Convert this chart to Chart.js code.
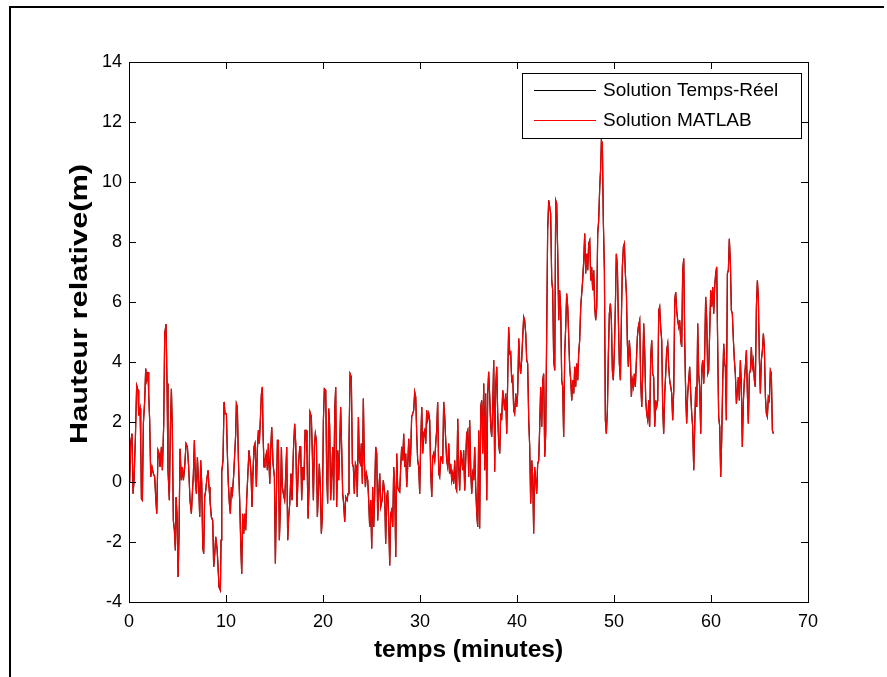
<!DOCTYPE html>
<html>
<head>
<meta charset="utf-8">
<script src="https://cdn.jsdelivr.net/npm/chart.js@4.4.0/dist/chart.umd.min.js"></script>
<style>
  html, body { margin: 0; padding: 0; background: #fff; }
  canvas { display: block; }
</style>
</head>
<body>
<canvas id="hauteurChart" width="887" height="677"></canvas>
<script>
// temps (minutes) and hauteur relative (m)
const minutes = [
  0.00, 0.07, 0.18, 0.31, 0.42, 0.52, 0.66, 0.79, 0.93, 1.00, 1.14, 1.21, 1.28, 1.38, 1.48, 1.62, 1.72, 1.83, 1.96, 2.03,
  2.13, 2.24, 2.37, 2.51, 2.65, 2.75, 2.86, 2.99, 3.10, 3.20, 3.34, 3.44, 3.58, 3.68, 3.82, 3.92, 4.02, 4.16, 4.26, 4.37,
  4.47, 4.57, 4.68, 4.78, 4.85, 4.95, 5.06, 5.16, 5.26, 5.40, 5.50, 5.61, 5.74, 5.88, 6.02, 6.15, 6.29, 6.43, 6.53, 6.64,
  6.74, 6.84, 6.95, 7.05, 7.19, 7.29, 7.39, 7.50, 7.60, 7.70, 7.80, 7.91, 8.01, 8.15, 8.25, 8.35, 8.49, 8.63, 8.73, 8.84,
  8.94, 9.08, 9.18, 9.28, 9.42, 9.49, 9.56, 9.69, 9.80, 9.90, 10.04, 10.14, 10.24, 10.35, 10.45, 10.55, 10.66, 10.79, 10.90, 11.00,
  11.07, 11.17, 11.28, 11.41, 11.52, 11.62, 11.72, 11.83, 11.93, 12.03, 12.13, 12.24, 12.37, 12.48, 12.58, 12.68, 12.79, 12.89, 12.99, 13.13,
  13.23, 13.34, 13.44, 13.54, 13.65, 13.75, 13.82, 13.92, 14.02, 14.16, 14.27, 14.37, 14.51, 14.61, 14.71, 14.85, 14.99, 15.09, 15.19, 15.30,
  15.40, 15.50, 15.61, 15.71, 15.81, 15.91, 16.05, 16.16, 16.26, 16.36, 16.46, 16.57, 16.70, 16.81, 16.95, 17.08, 17.19, 17.32, 17.46, 17.60,
  17.70, 17.80, 17.91, 18.04, 18.15, 18.25, 18.35, 18.46, 18.56, 18.66, 18.80, 18.90, 19.01, 19.11, 19.21, 19.32, 19.42, 19.52, 19.62, 19.73,
  19.83, 19.93, 20.04, 20.14, 20.28, 20.38, 20.48, 20.59, 20.69, 20.79, 20.90, 21.00, 21.10, 21.21, 21.31, 21.41, 21.52, 21.62, 21.72, 21.82,
  21.93, 22.03, 22.13, 22.24, 22.34, 22.48, 22.58, 22.68, 22.79, 22.92, 23.03, 23.13, 23.23, 23.34, 23.44, 23.54, 23.65, 23.75, 23.85, 23.95,
  24.06, 24.16, 24.26, 24.37, 24.47, 24.61, 24.71, 24.81, 24.92, 25.02, 25.12, 25.23, 25.33, 25.43, 25.54, 25.64, 25.74, 25.85, 25.95, 26.09,
  26.22, 26.36, 26.46, 26.57, 26.67, 26.77, 26.88, 26.98, 27.08, 27.19, 27.29, 27.39, 27.50, 27.60, 27.70, 27.80, 27.91, 28.01, 28.11, 28.22,
  28.32, 28.42, 28.53, 28.63, 28.73, 28.84, 28.94, 29.04, 29.14, 29.25, 29.35, 29.45, 29.56, 29.66, 29.76, 29.87, 29.97, 30.07, 30.18, 30.28,
  30.38, 30.48, 30.59, 30.69, 30.79, 30.90, 31.00, 31.10, 31.21, 31.31, 31.41, 31.52, 31.62, 31.72, 31.82, 31.93, 32.03, 32.13, 32.24, 32.34,
  32.44, 32.55, 32.65, 32.75, 32.86, 32.96, 33.06, 33.16, 33.27, 33.37, 33.47, 33.58, 33.68, 33.78, 33.89, 33.99, 34.09, 34.20, 34.30, 34.40,
  34.50, 34.61, 34.71, 34.81, 34.92, 35.02, 35.12, 35.23, 35.33, 35.43, 35.54, 35.64, 35.74, 35.85, 35.95, 36.05, 36.15, 36.26, 36.36, 36.46,
  36.57, 36.67, 36.77, 36.88, 36.98, 37.08, 37.19, 37.29, 37.39, 37.49, 37.60, 37.70, 37.80, 37.91, 38.01, 38.11, 38.22, 38.32, 38.42, 38.53,
  38.63, 38.73, 38.83, 38.94, 39.04, 39.14, 39.25, 39.35, 39.45, 39.56, 39.66, 39.76, 39.87, 39.97, 40.07, 40.18, 40.28, 40.38, 40.48, 40.59,
  40.69, 40.79, 40.90, 41.00, 41.10, 41.21, 41.31, 41.41, 41.52, 41.62, 41.72, 41.82, 41.93, 42.03, 42.13, 42.24, 42.34, 42.44, 42.55, 42.65,
  42.75, 42.86, 42.96, 43.06, 43.16, 43.27, 43.37, 43.47, 43.58, 43.68, 43.78, 43.89, 43.99, 44.09, 44.20, 44.30, 44.40, 44.51, 44.61, 44.71,
  44.81, 44.92, 45.02, 45.12, 45.23, 45.33, 45.43, 45.54, 45.64, 45.74, 45.85, 45.95, 46.05, 46.15, 46.26, 46.36, 46.46, 46.57, 46.67, 46.77,
  46.88, 46.98, 47.08, 47.19, 47.29, 47.39, 47.50, 47.60, 47.70, 47.80, 47.91, 48.01, 48.11, 48.22, 48.32, 48.42, 48.53, 48.63, 48.70, 48.80,
  48.90, 49.01, 49.11, 49.21, 49.32, 49.42, 49.52, 49.63, 49.73, 49.83, 49.93, 50.04, 50.14, 50.24, 50.35, 50.45, 50.55, 50.66, 50.76, 50.86,
  50.97, 51.07, 51.17, 51.28, 51.38, 51.48, 51.58, 51.69, 51.79, 51.89, 52.00, 52.10, 52.20, 52.31, 52.41, 52.51, 52.65, 52.75, 52.86, 52.96,
  53.06, 53.17, 53.27, 53.37, 53.48, 53.58, 53.68, 53.78, 53.89, 53.99, 54.09, 54.20, 54.30, 54.40, 54.51, 54.61, 54.71, 54.81, 54.92, 55.02,
  55.12, 55.23, 55.33, 55.43, 55.54, 55.64, 55.74, 55.85, 55.95, 56.05, 56.16, 56.26, 56.36, 56.46, 56.57, 56.67, 56.77, 56.88, 56.98, 57.08,
  57.19, 57.29, 57.39, 57.49, 57.60, 57.70, 57.80, 57.91, 58.01, 58.11, 58.22, 58.32, 58.42, 58.53, 58.63, 58.73, 58.83, 58.94, 59.04, 59.14,
  59.25, 59.35, 59.45, 59.56, 59.66, 59.76, 59.87, 59.97, 60.07, 60.18, 60.28, 60.38, 60.48, 60.59, 60.69, 60.79, 60.90, 61.00, 61.10, 61.21,
  61.31, 61.41, 61.48, 61.58, 61.69, 61.79, 61.89, 62.00, 62.10, 62.20, 62.31, 62.41, 62.51, 62.62, 62.72, 62.82, 62.92, 63.03, 63.13, 63.23,
  63.34, 63.44, 63.54, 63.65, 63.75, 63.85, 63.96, 64.06, 64.16, 64.26, 64.37, 64.47, 64.57, 64.68, 64.78, 64.88, 64.99, 65.09, 65.19, 65.30,
  65.40, 65.50, 65.61, 65.71, 65.81, 65.91, 66.02, 66.12, 66.22, 66.33, 66.43
];
const hauteur = [
  0.67, 0.00, 1.33, 1.61, -0.39, 0.06, 1.50, 3.22, 3.06, 2.22, 2.45, 1.28, -0.56, -0.61, 1.94, 2.72, 3.78, 3.39, 3.67, 2.94,
  2.06, 0.17, 0.50, 0.28, 0.17, -0.50, -1.06, 1.06, 0.95, 0.50, 1.17, 0.39, 1.94, 4.94, 5.26, 3.28, 0.39, -0.61, 1.72, 3.11,
  1.72, -1.28, -1.61, -2.28, -0.50, -1.06, -3.17, -1.72, 1.11, 0.06, 0.50, 0.06, 0.50, 1.28, 1.17, 0.50, -0.61, -1.06, -0.39, 0.28,
  1.39, 0.06, -0.39, 0.83, -0.17, -1.17, 0.72, -0.06, -2.17, -2.39, -0.50, -0.28, 0.06, 0.39, -0.17, -0.61, -1.17, -1.28, -2.83, -2.39,
  -1.83, -2.22, -2.83, -3.50, -3.61, -1.94, 0.33, 0.72, 2.67, 2.28, 2.28, 0.95, -0.06, -0.72, -1.06, -0.17, -0.39, 0.22, 0.95, 1.61,
  2.61, 2.50, 0.72, -0.61, -2.06, -3.06, -1.06, -1.72, -1.06, -1.61, -0.61, 0.17, 1.06, 0.72, 0.28, -0.83, 0.39, 1.17, 1.28, -0.17,
  1.06, 1.72, 1.28, 2.06, 2.94, 3.17, 1.61, 0.50, 0.72, 0.95, 0.39, 1.28, -0.06, 1.06, 1.83, 0.61, 0.17, -2.72, -0.61, 1.39,
  1.39, -1.94, -0.83, 1.17, -0.17, -0.39, -0.61, 0.28, 1.17, -1.94, -1.17, -0.72, 0.28, -0.61, 1.06, 1.94, 1.28, -0.83, 0.50, 1.17,
  1.17, -0.61, 0.50, 0.06, 1.72, 1.72, 0.95, -1.22, -0.17, 2.33, 2.17, 0.95, -0.61, 1.17, 1.61, 1.39, -1.17, -0.39, 0.61, -0.17,
  -1.72, -1.17, 2.06, 3.11, 3.06, 0.28, -0.72, 2.45, 1.83, -0.61, 0.28, 1.17, -0.61, 2.39, 3.17, -0.83, 1.06, 0.06, 1.17, 2.50,
  1.06, -0.39, -0.72, -1.33, -0.50, -0.61, -0.39, 1.28, 3.61, 3.50, 0.61, 0.50, -0.39, 0.61, 0.50, -0.50, 2.17, 0.72, 0.61, 1.28,
  -0.06, 2.78, 0.72, -0.17, 0.28, 0.06, -0.61, -1.50, -0.61, -2.22, -0.17, -1.50, -0.39, 1.17, 0.95, -1.28, -0.39, 0.28, -0.83, -0.61,
  0.06, -0.39, -2.06, -0.50, -0.28, -1.28, -2.78, -1.06, -0.94, -1.50, 0.50, -0.17, -2.50, 0.95, -0.17, -0.28, -0.33, 0.50, 1.17, 0.72,
  1.61, 0.50, 0.95, -0.17, 0.50, 1.44, 0.50, 0.95, 2.17, 2.28, 2.39, 3.00, 2.83, 1.61, 0.72, 0.50, -0.39, 1.28, 2.50, 0.95,
  1.61, 1.72, 1.28, 2.39, 2.06, 2.28, 2.06, 0.39, -0.50, 0.83, 0.95, 0.72, 1.28, 1.72, 2.67, 0.28, 0.17, 0.83, 0.83, 0.61,
  2.67, 2.17, 1.39, 0.72, 0.50, 1.28, 0.28, 0.61, 0.06, 0.28, -0.06, 0.72, -0.17, -0.28, 2.11, 0.50, -0.28, 1.06, 0.72, 0.39,
  1.06, -0.28, 0.72, 1.61, 1.72, 0.17, 2.06, 0.39, -0.39, 0.28, 0.06, 1.17, -0.17, -1.05, -1.50, 1.72, -1.55, 2.50, 2.72, 0.95,
  3.28, 0.39, 2.95, -0.61, 2.95, 3.67, 2.84, 1.84, 1.50, 2.39, 4.06, 0.34, 3.17, 3.84, 2.28, 1.28, 0.95, 2.28, 2.06, 3.06,
  2.72, 2.39, 2.95, 1.61, 3.39, 5.17, 4.28, 4.33, 3.39, 3.50, 2.39, 2.28, 2.95, 2.50, 2.95, 4.78, 3.95, 3.61, 4.06, 4.84,
  5.50, 5.39, 4.95, 4.06, 3.95, 2.06, 1.17, -0.72, 0.72, 0.17, -1.72, 0.50, 0.06, -0.39, 0.61, 0.72, 1.84, 3.17, 1.84, 3.39,
  3.61, 0.84, 1.61, 4.95, 8.39, 9.39, 9.17, 8.95, 6.72, 6.39, 4.06, 3.72, 9.39, 9.28, 7.61, 5.39, 6.39, 5.72, 3.39, 3.17,
  1.50, 4.28, 5.17, 6.28, 5.84, 4.84, 3.84, 3.39, 2.72, 3.39, 2.95, 3.84, 3.17, 3.95, 3.39, 4.28, 4.72, 5.84, 6.28, 6.72,
  7.39, 8.28, 6.95, 7.61, 7.06, 7.95, 8.06, 6.72, 7.17, 6.39, 7.06, 5.84, 5.39, 5.84, 8.28, 8.72, 9.84, 10.50, 11.39, 11.28,
  8.72, 7.06, 2.06, 1.61, 2.39, 4.28, 5.61, 5.95, 5.39, 3.72, 3.39, 4.39, 5.84, 7.61, 7.17, 5.39, 3.95, 3.39, 5.39, 7.17,
  7.84, 7.95, 6.95, 6.28, 4.61, 3.84, 4.72, 4.17, 2.84, 3.39, 3.17, 3.61, 3.17, 4.06, 4.84, 5.17, 5.39, 3.39, 2.50, 3.61,
  5.28, 4.28, 2.72, 2.28, 2.06, 2.72, 1.84, 4.17, 4.72, 3.61, 3.50, 1.84, 2.72, 2.50, 2.72, 5.72, 5.84, 5.17, 4.72, 2.50,
  1.61, 2.95, 3.61, 4.39, 4.61, 3.84, 3.39, 3.17, 2.95, 2.06, 3.06, 6.06, 6.33, 5.72, 5.39, 5.17, 5.39, 4.72, 4.50, 7.06,
  7.45, 4.72, 2.95, 1.95, 2.95, 3.39, 3.84, 2.95, 2.28, 1.84, 0.39, 1.84, 3.17, 2.50, 5.28, 3.61, 3.17, 1.61, 3.72, 4.06,
  3.28, 4.28, 6.17, 5.39, 3.61, 3.72, 5.06, 6.39, 5.84, 6.50, 5.61, 6.50, 6.95, 7.17, 4.50, 2.17, 1.84, 0.17, 1.39, 3.39,
  4.61, 3.95, 3.83, 2.06, 6.95, 7.06, 8.11, 7.28, 5.72, 5.61, 4.72, 4.06, 3.61, 2.61, 3.06, 3.50, 2.72, 4.06, 3.17, 1.17,
  2.72, 3.39, 3.83, 4.39, 2.95, 1.95, 3.61, 3.72, 4.50, 3.83, 4.06, 3.39, 3.17, 5.83, 6.72, 6.17, 4.06, 2.95, 4.06, 4.39,
  4.95, 4.50, 2.83, 2.28, 2.17, 2.83, 2.72, 3.72, 3.61, 1.72, 1.61
];
const xTicks = [0, 10, 20, 30, 40, 50, 60, 70];
const yTicks = [-4, -2, 0, 2, 4, 6, 8, 10, 12, 14];
const seriesNames = ["Solution Temps-Réel", "Solution MATLAB"];
const seriesColors = ["#000000", "#ff0000"];
const yTitle = "Hauteur relative(m)";

const FONT = "'Liberation Sans', Arial, sans-serif";
Chart.defaults.font.family = FONT;
Chart.defaults.color = "#000";

const points = minutes.map((t, i) => ({ x: t, y: hauteur[i] }));

// MATLAB style box, inward ticks, legend, y label and outer frame
const matlabFrame = {
  id: "matlabFrame",
  beforeDraw(chart) {
    const ctx = chart.ctx;
    ctx.save();
    ctx.fillStyle = "#fff";
    ctx.fillRect(0, 0, chart.width, chart.height);
    ctx.restore();
  },
  afterDatasetsDraw(chart) {
    const ctx = chart.ctx;
    const a = chart.chartArea;
    const xs = chart.scales.x, ys = chart.scales.y;
    ctx.save();
    ctx.strokeStyle = "#000";
    ctx.lineWidth = 1;
    ctx.strokeRect(a.left + 0.5, a.top + 0.5, a.right - a.left, a.bottom - a.top);
    ctx.beginPath();
    xTicks.forEach(v => {
      const px = Math.round(xs.getPixelForValue(v)) + 0.5;
      ctx.moveTo(px, a.bottom); ctx.lineTo(px, a.bottom - 7);
      ctx.moveTo(px, a.top); ctx.lineTo(px, a.top + 7);
    });
    yTicks.forEach(v => {
      const py = Math.round(ys.getPixelForValue(v)) + 0.5;
      ctx.moveTo(a.left, py); ctx.lineTo(a.left + 7, py);
      ctx.moveTo(a.right, py); ctx.lineTo(a.right - 7, py);
    });
    ctx.stroke();

    // legend box
    const lx = 522, ly = 73, lw = 279, lh = 65;
    ctx.fillStyle = "#fff";
    ctx.fillRect(lx, ly, lw, lh);
    ctx.strokeRect(lx + 0.5, ly + 0.5, lw, lh);
    ctx.font = "19px " + FONT;
    ctx.textBaseline = "middle";
    chart.data.datasets.forEach((ds, i) => {
      const y = ly + 17 + i * 30;
      ctx.strokeStyle = ds.borderColor;
      ctx.beginPath();
      ctx.moveTo(534, y + 0.5); ctx.lineTo(596, y + 0.5);
      ctx.stroke();
      ctx.fillStyle = "#000";
      ctx.fillText(ds.label, 603, y + 1);
    });

    // y label, drawn wide like the exported figure
    ctx.save();
    ctx.translate(80, 304);
    ctx.rotate(-Math.PI / 2);
    ctx.font = "bold 24px " + FONT;
    ctx.textAlign = "center";
    ctx.textBaseline = "middle";
    const w = ctx.measureText(yTitle).width;
    ctx.scale(280 / w, 1);
    ctx.fillStyle = "#000";
    ctx.fillText(yTitle, 0, 0);
    ctx.restore();

    // outer figure frame
    ctx.strokeStyle = "#000";
    ctx.lineWidth = 2;
    ctx.beginPath();
    ctx.moveTo(10, chart.height);
    ctx.lineTo(10, 7);
    ctx.lineTo(884, 7);
    ctx.stroke();
    ctx.restore();
  }
};

new Chart(document.getElementById("hauteurChart"), {
  type: "line",
  data: {
    datasets: [
      {
        label: seriesNames[0],
        data: points,
        borderColor: seriesColors[0],
        borderWidth: 1.2,
        pointRadius: 0,
        tension: 0,
        order: 1
      },
      {
        label: seriesNames[1],
        data: points,
        borderColor: seriesColors[1],
        borderWidth: 1.2,
        pointRadius: 0,
        tension: 0,
        order: 0
      }
    ]
  },
  options: {
    responsive: false,
    animation: false,
    layout: { padding: { left: 0, top: 62, right: 79, bottom: 0 } },
    plugins: { legend: { display: false }, tooltip: { enabled: false } },
    scales: {
      x: {
        type: "linear",
        min: 0, max: 70,
        afterBuildTicks: s => { s.ticks = xTicks.map(v => ({ value: v })); },
        afterFit: s => { s.height = 75; },
        grid: { display: false, drawTicks: false },
        border: { display: false },
        ticks: { font: { size: 18 }, padding: 9, maxRotation: 0 },
        title: {
          display: true,
          text: "temps (minutes)",
          font: { size: 24.5, weight: "bold" },
          padding: { top: 0, bottom: 12 }
        }
      },
      y: {
        min: -4, max: 14,
        afterBuildTicks: s => { s.ticks = yTicks.map(v => ({ value: v })); },
        afterFit: s => { s.width = 129; },
        grid: { display: false, drawTicks: false },
        border: { display: false },
        ticks: { font: { size: 18 }, padding: 7 },
        title: { display: false, text: yTitle }
      }
    }
  },
  plugins: [matlabFrame]
});
</script>
</body>
</html>
